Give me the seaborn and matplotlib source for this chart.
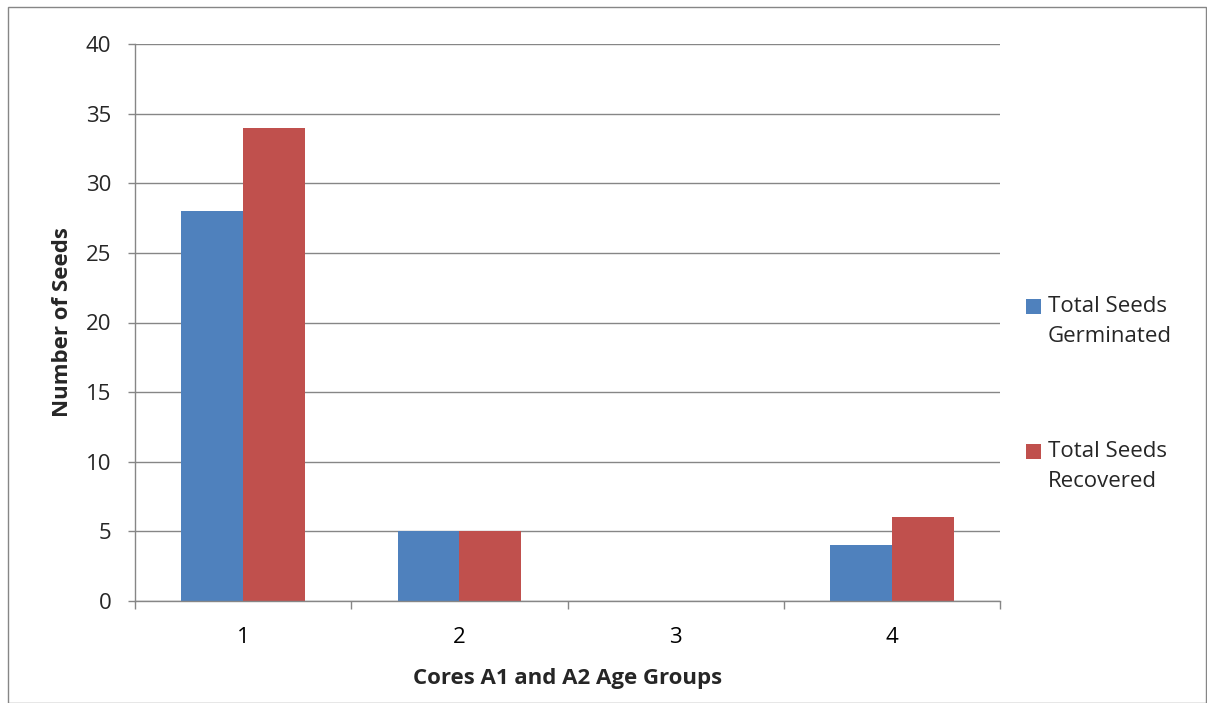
import matplotlib
matplotlib.use("Agg")
import matplotlib.pyplot as plt
from matplotlib.patches import Rectangle
import seaborn as sns
import pandas as pd

# Data
groups = ["1", "2", "3", "4"]
germinated = [28, 5, 0, 4]
recovered = [34, 5, 0, 6]
series_names = ["Total Seeds\nGerminated", "Total Seeds\nRecovered"]
y_ticks = [0, 5, 10, 15, 20, 25, 30, 35, 40]

df = pd.DataFrame({
    "group": groups * 2,
    "value": germinated + recovered,
    "series": [series_names[0]] * len(groups) + [series_names[1]] * len(groups),
})

sns.set_theme(style="white")
plt.rcParams["font.family"] = ["Open Sans", "DejaVu Sans"]

blue = "#4F81BD"
red = "#C0504D"
grid_c = "#868686"
FS = 16

W, H = 1207, 703
fig = plt.figure(figsize=(W / 100, H / 100), dpi=100)
ax = fig.add_axes([135 / W, 1 - 601 / H, 865 / W, 557 / H])

sns.barplot(data=df, x="group", y="value", hue="series", order=groups,
            hue_order=series_names, palette=[blue, red], width=0.572,
            saturation=1, ax=ax, legend=False, linewidth=0)

ax.set_xlim(-0.5, 3.5)
ax.set_ylim(0, 40)
ax.set_yticks(y_ticks)
ax.set_yticklabels([str(t) for t in y_ticks], fontsize=FS)
ax.set_xticks(range(len(groups)))
ax.set_xticklabels(groups, fontsize=FS)
ax.set_axisbelow(True)
ax.yaxis.grid(True, color=grid_c, linewidth=1)
ax.xaxis.grid(False)

# category boundary ticks on the x axis
ax.set_xticks([i - 0.5 for i in range(len(groups) + 1)], minor=True)
ax.tick_params(axis="x", which="major", length=0, pad=19, colors="black")
ax.tick_params(axis="x", which="minor", length=6, width=1, color=grid_c, direction="out", bottom=True)
ax.tick_params(axis="y", which="major", length=5, width=1, color=grid_c, direction="out", left=True, pad=12)

for s in ["top", "right"]:
    ax.spines[s].set_visible(False)
for s in ["left", "bottom"]:
    ax.spines[s].set_color(grid_c)
    ax.spines[s].set_linewidth(1)

ax.set_xlabel("Cores A1 and A2 Age Groups", fontsize=FS, fontweight="bold", labelpad=14)
ax.set_ylabel("Number of Seeds", fontsize=FS, fontweight="bold", labelpad=9)

# legend drawn beside the plot area
for (name, col, ytop) in [(series_names[0], blue, 299), (series_names[1], red, 444)]:
    fig.patches.append(Rectangle((1026 / W, 1 - (ytop + 15) / H), 15 / W, 15 / H,
                                 transform=fig.transFigure, facecolor=col, edgecolor="none"))
    fig.text(1048 / W, 1 - (ytop - 3) / H, name, fontsize=FS, va="top", ha="left",
             linespacing=1.55)

# chart frame
fig.patches.append(Rectangle((7.5 / W, 0), (W - 9) / W, (H - 6.5) / H, transform=fig.transFigure,
                             facecolor="none", edgecolor=grid_c, linewidth=1))

fig.savefig("out.png", dpi=100)
